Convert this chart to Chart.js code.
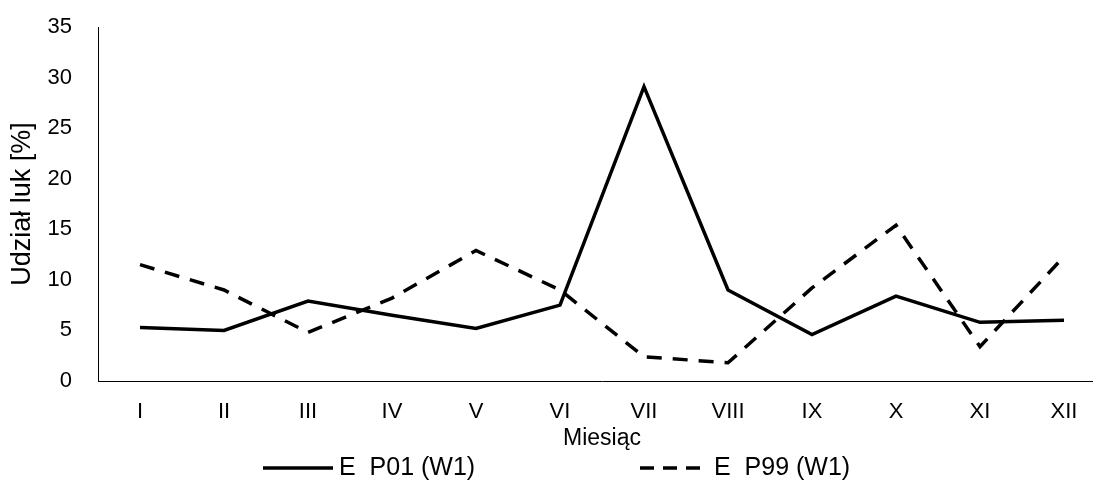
<!DOCTYPE html>
<html>
<head>
<meta charset="utf-8">
<script src="https://cdn.jsdelivr.net/npm/chart.js@4/dist/chart.umd.min.js"></script>
<style>
html,body{margin:0;padding:0;background:#fff;overflow:hidden;}
#wrap{position:relative;width:1108px;height:490px;}
</style>
</head>
<body>
<div id="wrap"><canvas id="c"></canvas></div>
<script>
const categories = ['I','II','III','IV','V','VI','VII','VIII','IX','X','XI','XII'];
const seriesP01 = [5.3, 5.0, 7.9, 6.5, 5.2, 7.5, 29.1, 9.0, 4.6, 8.4, 5.8, 6.0];
const seriesP99 = [11.5, 9.0, 4.8, 8.2, 12.9, 9.0, 2.4, 1.8, 9.2, 15.4, 3.4, 12.3];
const seriesNames = ['E  P01 (W1)', 'E  P99 (W1)'];
const yTitle = 'Udział luk [%]';
const xTitle = 'Miesiąc';

const FONT = 'Liberation Sans, Arial, sans-serif';
const FS = 22;
const DASH = [15, 11];

const legendPlugin = {
  id: 'customLegend',
  afterDraw(chart) {
    const ctx = chart.ctx;
    const y = 468;
    const items = [
      {x0: 263, x1: 333, tx: 339, dash: [], label: seriesNames[0]},
      {x0: 640, x1: 708, tx: 714, dash: [14, 9], label: seriesNames[1]}
    ];
    ctx.save();
    items.forEach(it => {
      ctx.beginPath();
      ctx.setLineDash(it.dash);
      ctx.lineWidth = 3.5;
      ctx.strokeStyle = '#000';
      ctx.moveTo(it.x0, y);
      ctx.lineTo(it.x1, y);
      ctx.stroke();
      ctx.setLineDash([]);
      ctx.fillStyle = '#000';
      ctx.font = '25px ' + FONT;
      ctx.textBaseline = 'middle';
      ctx.textAlign = 'left';
      ctx.fillText(it.label, it.tx, y);
    });
    ctx.restore();
  }
};

new Chart(document.getElementById('c'), {
  type: 'line',
  data: {
    labels: categories,
    datasets: [
      {label: seriesNames[0], data: seriesP01, borderColor: '#000', borderWidth: 3.5, pointRadius: 0, tension: 0, fill: false},
      {label: seriesNames[1], data: seriesP99, borderColor: '#000', borderWidth: 3.5, borderDash: DASH, pointRadius: 0, tension: 0, fill: false}
    ]
  },
  options: {
    responsive: true,
    maintainAspectRatio: false,
    animation: false,
    events: [],
    layout: {padding: {top: 27, right: 2, bottom: 38, left: 0}},
    plugins: {legend: {display: false}, tooltip: {enabled: false}},
    scales: {
      x: {
        offset: true,
        grid: {display: false, drawTicks: false},
        border: {display: true, color: '#000', width: 1},
        ticks: {color: '#000', font: {family: FONT, size: FS}, padding: 18, maxRotation: 0, autoSkip: false},
        title: {display: true, text: xTitle, color: '#000', font: {family: FONT, size: 23}, padding: {top: 0, bottom: 0}},
        afterFit(s) { s.height = 71; }
      },
      y: {
        min: 0, max: 35,
        grid: {display: false, drawTicks: false},
        border: {display: true, color: '#000', width: 1},
        ticks: {stepSize: 5, color: '#000', font: {family: FONT, size: FS}, padding: 26},
        title: {display: true, text: yTitle, color: '#000', font: {family: FONT, size: 27}, padding: {top: 6, bottom: 0}},
        afterFit(s) { s.width = 98; s.paddingTop = 10; s.paddingBottom = 10; }
      }
    }
  },
  plugins: [legendPlugin]
});
</script>
</body>
</html>
